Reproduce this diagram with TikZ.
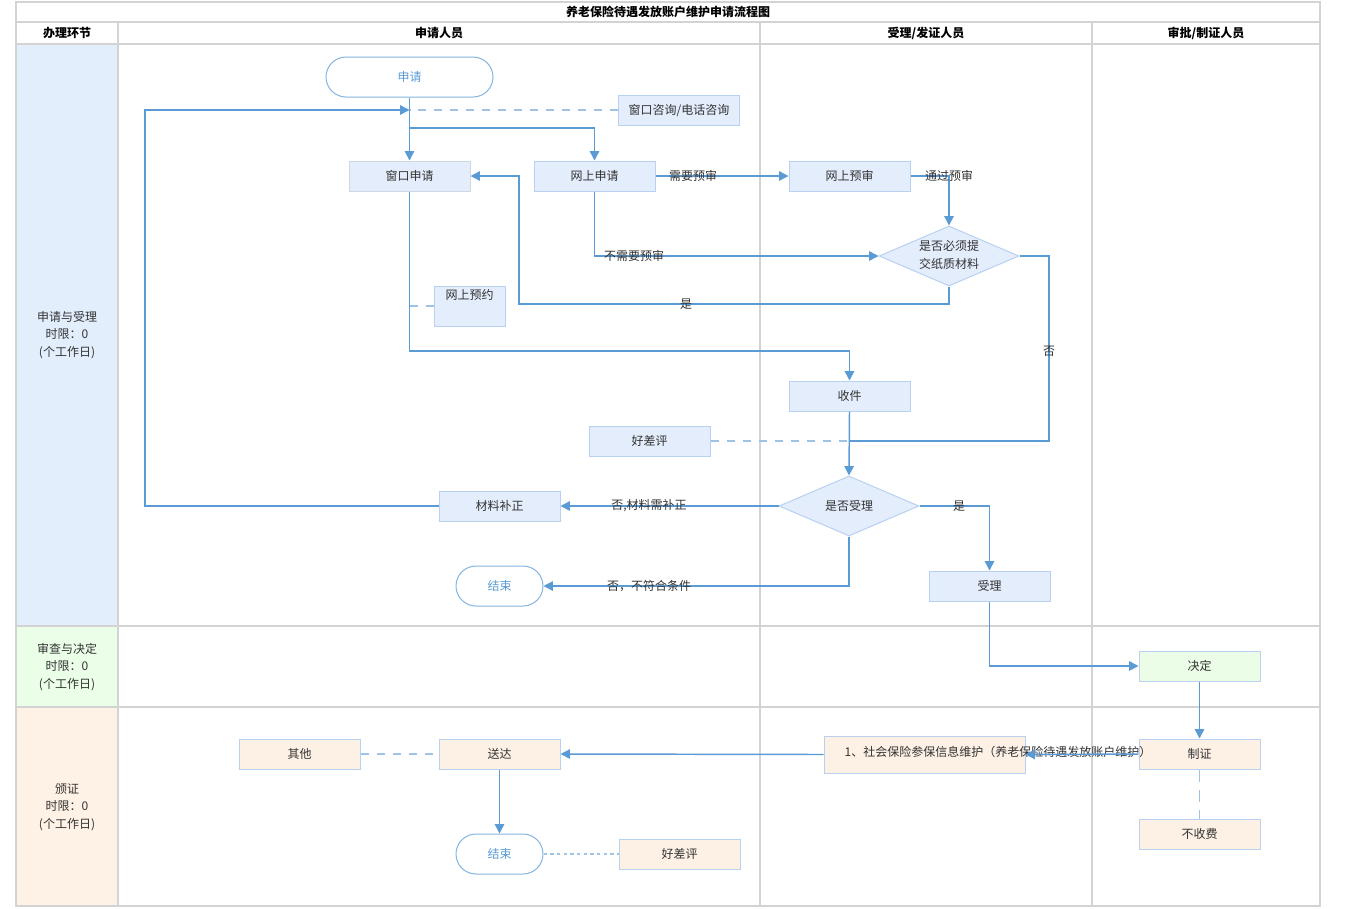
\documentclass[tikz,border=0pt]{standalone}
\usepackage{fontspec}
\setmainfont{Noto Sans CJK SC}
\usetikzlibrary{shapes.geometric,arrows.meta}
\definecolor{lineblue}{HTML}{5B9BD5}
\definecolor{lightline}{HTML}{9DC3E6}
\definecolor{boxblue}{HTML}{E3EDFC}
\definecolor{boxborder}{HTML}{B8D1F0}
\definecolor{peach}{HTML}{FDF1E5}
\definecolor{mint}{HTML}{EBFDE7}
\definecolor{laneblue}{HTML}{E3EEFD}
\definecolor{lanegreen}{HTML}{EBFEE8}
\definecolor{lanepeach}{HTML}{FEF1E5}
\definecolor{gridgray}{HTML}{D3D3D3}
\definecolor{txtgray}{HTML}{333333}
\begin{document}
\begin{tikzpicture}[x=0.75pt,y=-0.75pt,
  font=\fontsize{9}{11}\selectfont,
  box/.style={draw=boxborder, fill=boxblue, line width=0.75pt, minimum width=90.75pt, minimum height=22.5pt, inner sep=0pt, text=txtgray},
  pbox/.style={box, fill=peach},
  gbox/.style={box, fill=mint},
  term/.style={draw=lineblue!75, fill=white, rounded corners=15pt, minimum height=30pt, inner sep=0pt, text=lineblue, line width=0.75pt},
  dia/.style={diamond, aspect=2.333, draw=boxborder, fill=boxblue, line width=0.75pt, minimum width=105pt, minimum height=45pt, inner sep=0pt, text=txtgray},
  flow/.style={draw=lineblue, line width=1.1pt, -{Triangle[length=7pt,width=7pt]}},
  link/.style={draw=lineblue, line width=1.1pt},
  dashlink/.style={draw=lightline, line width=1.1pt, dash pattern=on 6pt off 6pt},
  vdashlink/.style={draw=lightline, line width=1.1pt, dash pattern=on 9pt off 6pt},
  dotlink/.style={draw=lightline, line width=1.1pt, dash pattern=on 2.5pt off 2.5pt},
  lbl/.style={text=txtgray, inner sep=1pt},
  hdr/.style={text=black, font=\fontsize{9}{11}\selectfont\bfseries},
  lanetxt/.style={text=txtgray, align=center, font=\fontsize{9}{13}\selectfont},
  gridline/.style={draw=gridgray, line width=1pt},
  outer/.style={draw=gridgray, line width=1.6pt}
]
\useasboundingbox (0,0) rectangle (1350,908);
\fill[white] (0,0) rectangle (1350,908);
% lane fills
\fill[laneblue] (16,44) rectangle (118,626);
\fill[lanegreen] (16,626) rectangle (118,707);
\fill[lanepeach] (16,707) rectangle (118,906);
% grid
\draw[gridline] (16,22) -- (1320,22);
\draw[gridline] (16,44) -- (1320,44);
\draw[outer] (16,626) -- (1320,626);
\draw[outer] (16,707) -- (1320,707);
\draw[gridline] (118,22) -- (118,906);
\draw[gridline] (760,22) -- (760,906);
\draw[gridline] (1092,22) -- (1092,906);
\draw[outer] (16,2) rectangle (1320,906);
% headers
\node[hdr] (title) at (668,12) {养老保险待遇发放账户维护申请流程图};
\node[hdr] (h0) at (67,33) {办理环节};
\node[hdr] (h1) at (439,33) {申请人员};
\node[hdr] (h2) at (926,33) {受理/发证人员};
\node[hdr] (h3) at (1206,33) {审批/制证人员};
\node[lanetxt] (l1) at (67,335) {申请与受理\\时限：0\\(个工作日)};
\node[lanetxt] (l2) at (67,667) {审查与决定\\时限：0\\(个工作日)};
\node[lanetxt] (l3) at (67,807) {颁证\\时限：0\\(个工作日)};
% nodes
\node[term, minimum width=125.25pt] (sq) at (409.5,77) {申请};
\node[box] (zx) at (679,110) {窗口咨询/电话咨询};
\node[box, draw=boxblue!80!gray] (ck) at (409.5,176) {窗口申请};
\node[box] (ws) at (594.5,176) {网上申请};
\node[box] (wy) at (849.5,176) {网上预审};
\node[dia] (d1) at (949,256) {};
\node[lbl, align=center, font=\fontsize{9}{14}\selectfont] (d1t) at (949,255) {是否必须提\\交纸质材料};
\node[box, minimum width=53.25pt, minimum height=30pt, label={[anchor=north, text=txtgray, inner sep=3pt]north:网上预约}] (yy) at (469.5,306) {};
\node[box] (sj) at (849.5,396) {收件};
\node[box] (hp1) at (649.5,441) {好差评};
\node[dia] (d2) at (849,506) {是否受理};
\node[box] (bz) at (499.5,506) {材料补正};
\node[box] (sl) at (989.5,586) {受理};
\node[term, minimum width=65.25pt] (end1) at (499.5,586) {结束};
\node[gbox] (jd) at (1199.5,666) {决定};
\node[pbox] (qt) at (299.5,754) {其他};
\node[pbox] (sd) at (499.5,754) {送达};
\node[pbox, minimum width=150.75pt, minimum height=27.75pt] (wh) at (924.5,754.5) {};
\node[pbox] (zz) at (1199.5,754) {制证};
\node[lbl, anchor=west] (wht) at (843,752) {1、社会保险参保信息维护（养老保险待遇发放账户维护）};
\node[pbox] (bsf) at (1199.5,834) {不收费};
\node[term, minimum width=65.25pt] (end2) at (499.5,854) {结束};
\node[pbox] (hp2) at (679.5,854) {好差评};
% helper coordinates
\coordinate (m1) at (409.5,110);
\coordinate (m2) at (409.5,128);
\coordinate (c1) at (519,304);
\coordinate (c2) at (1049,441);
\coordinate (c3) at (409.5,351);
\coordinate (c4) at (409.5,306);
\coordinate (lc1) at (145,506);
\coordinate (lc2) at (145,110);
% connectors
\draw[flow] (sq.south) -- (ck.north);
\draw[flow] (m2) -| (ws.north);
\draw[dashlink] (zx.west) -- (m1);
\draw[flow] (ws.east) -- (wy.west);
\draw[flow] (wy.east) -| (d1.north);
\draw[flow] (ws.south) |- (d1.west);
\draw[flow] (d1.south) |- (c1) |- (ck.east);
\draw[link] (d1.east) -| (c2) -- (c2 -| sj.south);
\draw[flow] (ck.south) -- (c3) -| (sj.north);
\draw[dashlink] (c4) -- (yy.west);
\draw[flow] (sj.south) -- (d2.north);
\draw[dashlink] (hp1.east) -- (hp1.east -| sj.south);
\draw[flow] (d2.west) -- (bz.east);
\draw[flow] (bz.west) -- (lc1) -- (lc2) -- (m1);
\draw[flow] (d2.east) -| (sl.north);
\draw[flow] (d2.south) |- (end1.east);
\draw[flow] (sl.south) |- (jd.west);
\draw[flow] (jd.south) -- (zz.north);
\draw[flow] (zz.west) -- (wh.east);
\draw[flow] (wh.west) -- (sd.east);
\draw[dashlink] (qt.east) -- (sd.west);
\draw[flow] (sd.south) -- (end2.north);
\draw[dotlink] (end2.east) -- (hp2.west);
\draw[vdashlink] (zz.south) -- (bsf.north);
% labels
\node[lbl] (t1) at (693,176) {需要预审};
\node[lbl] (t2) at (949,176) {通过预审};
\node[lbl] (t3) at (634,256) {不需要预审};
\node[lbl] (t4) at (686,304) {是};
\node[lbl] (t5) at (1049,351) {否};
\node[lbl] (t6) at (649,506) {否,材料需补正};
\node[lbl] (t7) at (959,506) {是};
\node[lbl] (t8) at (649,586) {否，不符合条件};
\end{tikzpicture}
\end{document}
